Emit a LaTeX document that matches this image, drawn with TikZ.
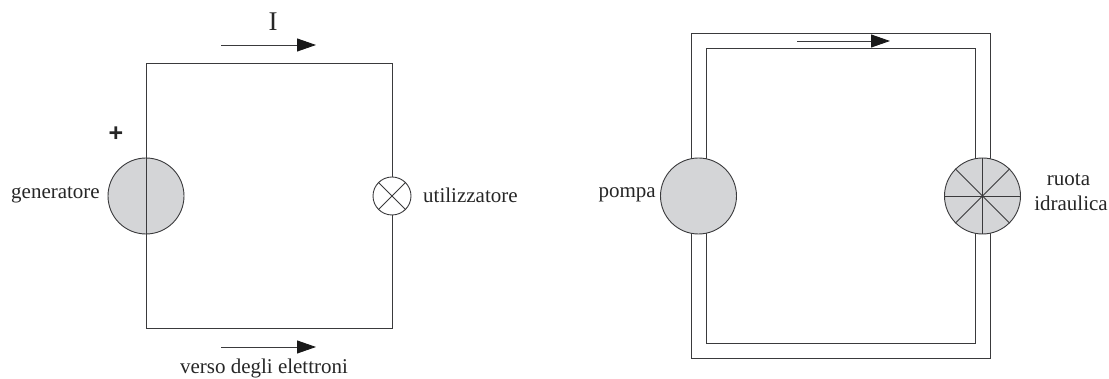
\documentclass[tikz,border=0pt]{standalone}
\usepackage{fontspec}
\setmainfont{Liberation Serif}
\setsansfont{Liberation Sans}
\usetikzlibrary{arrows.meta}
\definecolor{wire}{HTML}{3A3A3C}
\definecolor{bodygray}{HTML}{D4D5D7}
\tikzset{
  wireline/.style={draw=wire, line width=0.9pt},
  flow/.style={draw=wire, line width=0.9pt, -{Triangle[length=19pt, width=13pt, color=black!90]}},
  disc/.style={circle, draw=wire, line width=0.9pt, fill=bodygray, inner sep=0pt, minimum size=76pt},
  lamp/.style={circle, draw=wire, line width=0.9pt, fill=white, inner sep=0pt, minimum size=38pt},
  lbl/.style={inner sep=0pt, font=\fontsize{21}{24}\selectfont, text=black!85}
}
\begin{document}
\begin{tikzpicture}[x=1pt, y=1pt]
\useasboundingbox (0,0) rectangle (1109,379);
% circuit
\coordinate (ctl) at (146,316);
\coordinate (ctr) at (392,316);
\coordinate (cbl) at (146,51);
\coordinate (cbr) at (392,51);
\draw[wireline] (ctl) -- (ctr) -- (cbr) -- (cbl) -- cycle;
\node[disc] (gen) at (146,183){};
\draw[wireline] (gen.north) -- (gen.south);
\node[lamp] (lmp) at (392,183){};
\draw[wireline] (lmp.45) -- (lmp.225);
\draw[wireline] (lmp.135) -- (lmp.315);
\coordinate (ia) at (221,334);
\coordinate (ib) at (316,334);
\draw[flow] (ia) -- (ib);
\coordinate (ea) at (221,32);
\coordinate (eb) at (316,32);
\draw[flow] (ea) -- (eb);
\node[lbl, font=\fontsize{27}{30}\selectfont] (icur) at (273,357){I};
\node[lbl, font=\fontsize{25}{28}\sffamily\bfseries\selectfont] (plus) at (116,245){+};
\node[lbl, anchor=east] (tgen) at (100,184){generatore};
\node[lbl, anchor=west] (tuti) at (423,184){utilizzatore};
\node[lbl] (tele) at (264,11){verso degli elettroni};
% hydraulic loop
\coordinate (otl) at (691,346);
\coordinate (otr) at (990,346);
\coordinate (obl) at (691,21);
\coordinate (obr) at (990,21);
\coordinate (itl) at (706,331);
\coordinate (itr) at (975,331);
\coordinate (ibl) at (706,36);
\coordinate (ibr) at (975,36);
\draw[wireline] (otl) -- (otr) -- (obr) -- (obl) -- cycle;
\draw[wireline] (itl) -- (itr) -- (ibr) -- (ibl) -- cycle;
\node[disc] (pmp) at (698.5,183){};
\node[disc] (whl) at (982.5,183){};
\draw[wireline] (whl.north) -- (whl.south);
\draw[wireline] (whl.west) -- (whl.east);
\draw[wireline] (whl.45) -- (whl.225);
\draw[wireline] (whl.135) -- (whl.315);
\coordinate (wa) at (797,338);
\coordinate (wb) at (890,338);
\draw[flow] (wa) -- (wb);
\node[lbl, anchor=east] (tpmp) at (656,184){pompa};
\node[lbl, align=center, font=\fontsize{21}{25}\selectfont] (twhl) at (1071,187){ruota\hspace*{5pt}\\idraulica};
\end{tikzpicture}
\end{document}
